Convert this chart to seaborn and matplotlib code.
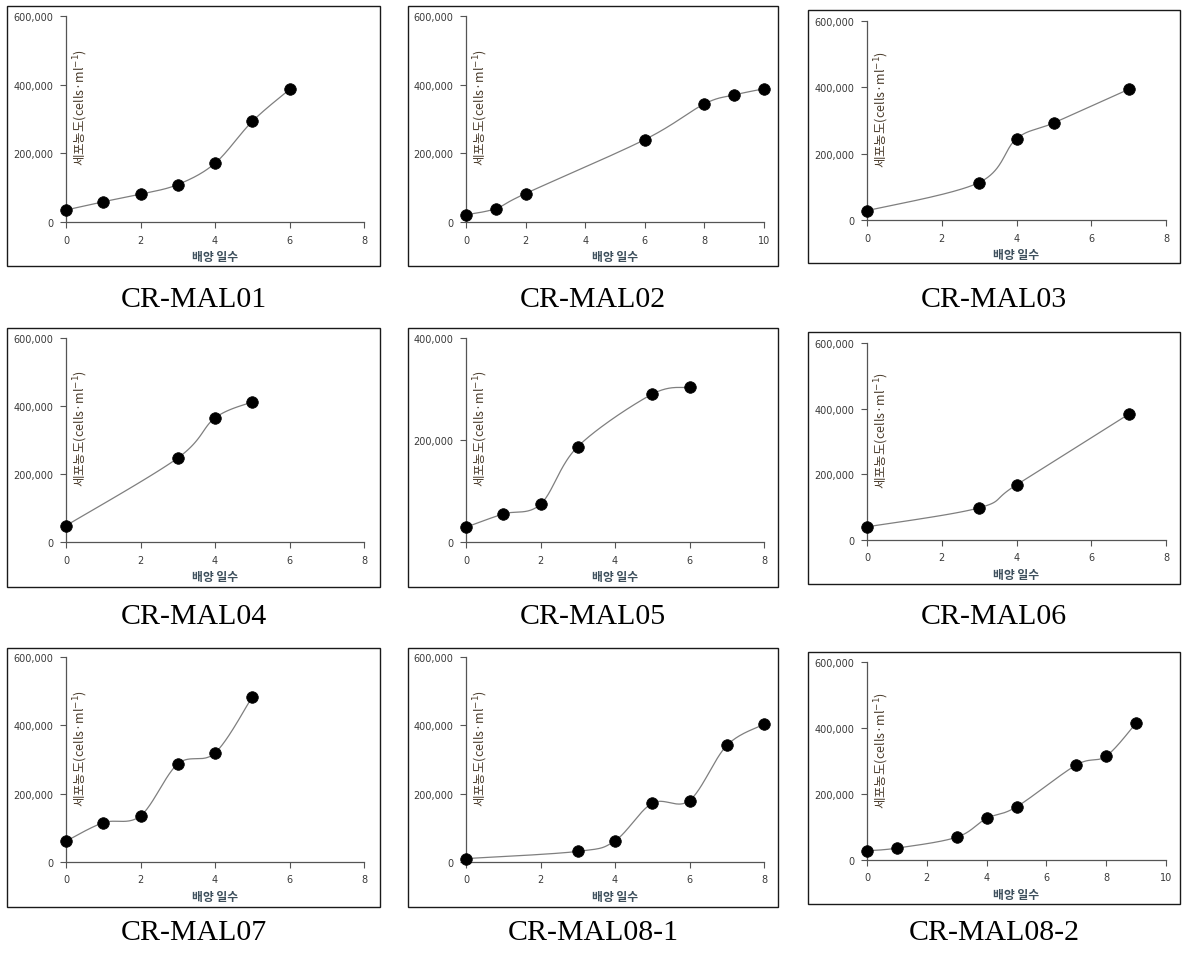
import numpy as np
import pandas as pd
import matplotlib
matplotlib.use("Agg")
import matplotlib.pyplot as plt
import seaborn as sns
from matplotlib.patches import Rectangle
from matplotlib.ticker import FuncFormatter, MultipleLocator

# ---------------- data ----------------
names = ["CR-MAL01", "CR-MAL02", "CR-MAL03",
         "CR-MAL04", "CR-MAL05", "CR-MAL06",
         "CR-MAL07", "CR-MAL08-1", "CR-MAL08-2"]

days_01 = [0, 1, 2, 3, 4, 5, 6]
cells_01 = [35000, 59000, 81000, 109000, 171000, 293000, 386000]
days_02 = [0, 1, 2, 6, 8, 9, 10]
cells_02 = [21000, 39000, 83000, 240000, 344000, 370000, 388000]
days_03 = [0, 3, 4, 5, 7]
cells_03 = [28000, 113000, 245000, 293000, 394000]
days_04 = [0, 3, 4, 5]
cells_04 = [48000, 247000, 365000, 412000]
days_05 = [0, 1, 2, 3, 5, 6]
cells_05 = [29000, 55000, 74000, 187000, 290000, 303000]
days_06 = [0, 3, 4, 7]
cells_06 = [40000, 98000, 168000, 383000]
days_07 = [0, 1, 2, 3, 4, 5]
cells_07 = [61000, 115000, 135000, 287000, 319000, 483000]
days_081 = [0, 3, 4, 5, 6, 7, 8]
cells_081 = [10000, 31000, 62000, 172000, 180000, 341000, 403000]
days_082 = [0, 1, 3, 4, 5, 7, 8, 9]
cells_082 = [28000, 36000, 69000, 126000, 161000, 288000, 315000, 415000]

days_all = [days_01, days_02, days_03, days_04, days_05, days_06, days_07, days_081, days_082]
cells_all = [cells_01, cells_02, cells_03, cells_04, cells_05, cells_06, cells_07, cells_081, cells_082]

x_max = [8, 10, 8, 8, 8, 8, 8, 8, 10]
y_max = [600000, 600000, 600000, 600000, 400000, 600000, 600000, 600000, 600000]

xlabel_text = "배양 일수"
ylabel_text = "세포농도(cells·ml$^{-1}$)"

# ---------------- style ----------------
sns.set_theme(style="white")
plt.rcParams["font.family"] = ["DejaVu Sans", "Noto Sans CJK KR"]

W, H = 1182, 954
fig = plt.figure(figsize=(W / 100, H / 100), dpi=100)

col_box = [(7, 380), (408, 778), (808, 1180)]
col_ax = [(66, 364), (466, 764), (867, 1166)]
row_box = [(7, 267), (329, 588), (649, 908)]
row_ax = [(17, 223), (339, 543), (658, 863)]
caption_y = [300, 617, 933]


def smooth(xs, ys, kx, ky, n=40):
    P = np.column_stack([np.asarray(xs, float) * kx, np.asarray(ys, float) * ky])
    out = [P[0]]
    for i in range(len(P) - 1):
        p0 = P[i - 1] if i > 0 else P[i]
        p1, p2 = P[i], P[i + 1]
        p3 = P[i + 2] if i + 2 < len(P) else P[i + 1]
        c1 = p1 + (p2 - p0) / 6.0
        c2 = p2 - (p3 - p1) / 6.0
        t = np.linspace(0, 1, n)[1:, None]
        seg = (1 - t) ** 3 * p1 + 3 * (1 - t) ** 2 * t * c1 + 3 * (1 - t) * t ** 2 * c2 + t ** 3 * p2
        out.extend(seg)
    out = np.array(out)
    return out[:, 0] / kx, out[:, 1] / ky


for k in range(9):
    r, c = divmod(k, 3)
    bx0, bx1 = col_box[c]
    by0, by1 = row_box[r]
    ax0, ax1 = col_ax[c]
    ay0, ay1 = row_ax[r]
    if c == 2:
        by0, by1 = by0 + 4, by1 - 3
        ay0, ay1 = ay0 + 5, ay1 - 2

    fig.add_artist(Rectangle((bx0 / W, 1 - by1 / H), (bx1 - bx0) / W, (by1 - by0) / H,
                             transform=fig.transFigure, fill=False, ec="#1a1a1a", lw=1.0))

    ax = fig.add_axes([ax0 / W, 1 - ay1 / H, (ax1 - ax0) / W, (ay1 - ay0) / H])
    ax.set_facecolor("none")

    df = pd.DataFrame({"day": days_all[k], "cells": cells_all[k]})
    kx = (ax1 - ax0) / x_max[k]
    ky = (ay1 - ay0) / y_max[k]
    sx, sy = smooth(df["day"], df["cells"], kx, ky)
    ax.plot(sx, sy, color="#7f7f7f", lw=0.9, clip_on=False, zorder=2)
    sns.scatterplot(data=df, x="day", y="cells", ax=ax, color="black", s=70,
                    edgecolor="black", linewidth=0.5, zorder=3, clip_on=False)

    ax.set_xlim(0, x_max[k])
    ax.set_ylim(0, y_max[k])
    ax.xaxis.set_major_locator(MultipleLocator(2))
    ax.yaxis.set_major_locator(MultipleLocator(200000))
    ax.yaxis.set_major_formatter(FuncFormatter(lambda v, p: f"{v:,.0f}"))

    for s in ["top", "right"]:
        ax.spines[s].set_visible(False)
    for s in ["left", "bottom"]:
        ax.spines[s].set_color("#555555")
        ax.spines[s].set_linewidth(0.9)
    ax.tick_params(axis="both", which="major", direction="out", length=4, width=0.8,
                   color="#555555", labelsize=7, labelcolor="#3a3a3a", pad=5,
                   bottom=True, left=True)

    ax.set_xlabel(xlabel_text, fontsize=8.5, fontweight="bold", color="#3d4f5c",
                  family=["Noto Sans CJK KR", "DejaVu Sans"], labelpad=4)
    ax.set_ylabel("")
    ax.text(0.048, 0.56, ylabel_text, transform=ax.transAxes, rotation=90,
            ha="center", va="center", fontsize=9, color="#4a3c2c",
            family=["Noto Sans CJK KR", "DejaVu Sans"])

    fig.text(((bx0 + bx1) / 2) / W, 1 - caption_y[r] / H, names[k],
             ha="center", va="center", fontsize=21.5, color="black",
             family=["Liberation Serif", "DejaVu Serif"])

fig.savefig("out.png", dpi=100)
